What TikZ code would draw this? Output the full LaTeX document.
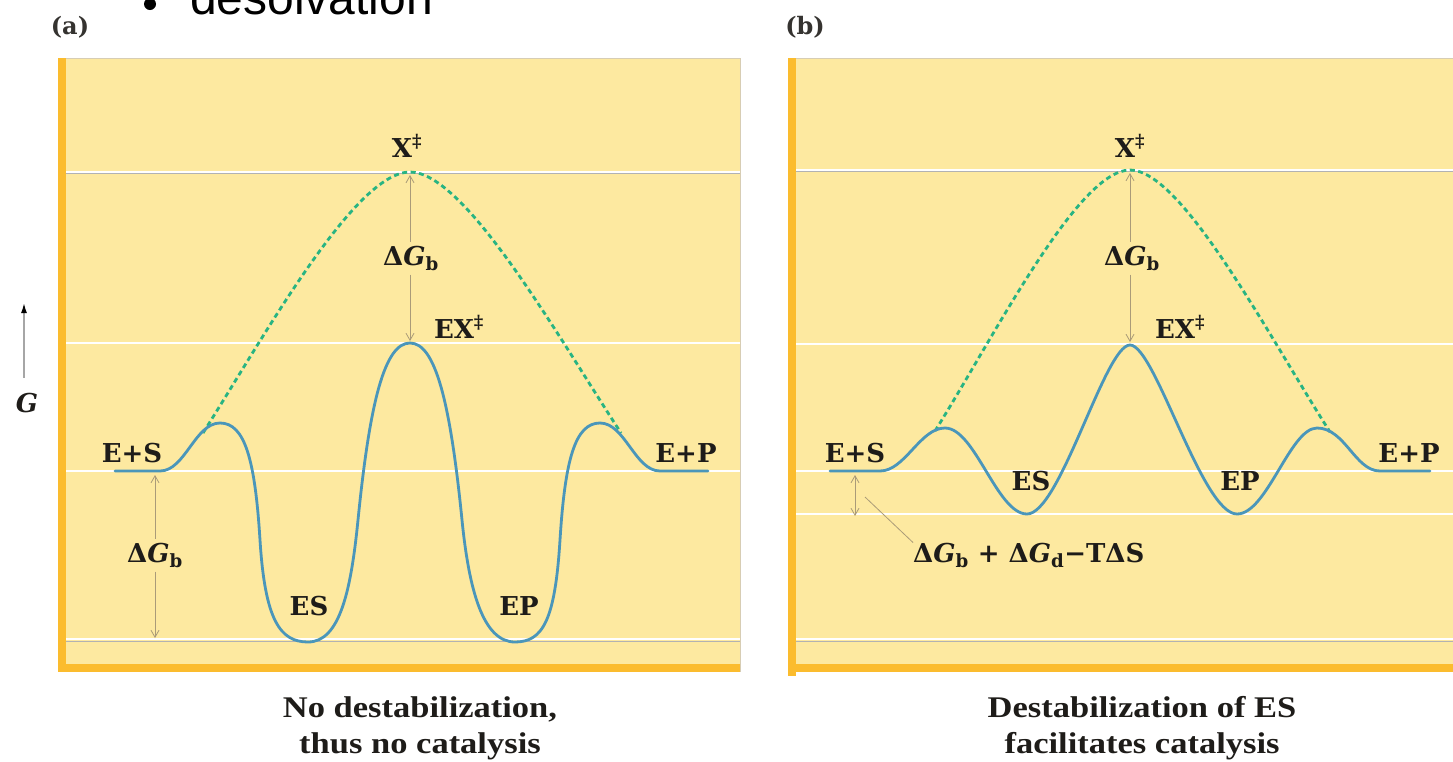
\documentclass[tikz,border=0pt]{standalone}
\usepackage{fontspec}
\setmainfont{DejaVu Serif}
\newfontfamily\capfont[FakeStretch=1.15]{Liberation Serif}
\newfontfamily\slidefont{Liberation Sans}
\usetikzlibrary{arrows.meta}
\definecolor{paper}{RGB}{253,233,160}
\definecolor{barorange}{RGB}{251,188,46}
\definecolor{curveblue}{RGB}{74,150,186}
\definecolor{tsgreen}{RGB}{40,180,130}
\definecolor{dimtan}{RGB}{170,155,120}
\definecolor{edgegray}{RGB}{215,205,180}
\definecolor{inkblack}{RGB}{30,28,25}
\tikzset{
  panel/.style={fill=paper},
  edge/.style={draw=edgegray, line width=1pt},
  bar/.style={fill=barorange},
  hline/.style={draw=white, line width=2pt},
  gline/.style={draw=black!30, line width=1.5pt},
  energy/.style={draw=curveblue, line width=2.8pt, line cap=round},
  tsline/.style={draw=tsgreen, line width=2.8pt, dash pattern=on 5pt off 3.5pt},
  dimline/.style={draw=dimtan, line width=0.8pt},
  dimarrow/.style={dimline, -{Straight Barb[length=7pt,width=8pt]}},
  lbl/.style={font=\bfseries\fontsize{26}{28}\selectfont, text=inkblack, inner sep=0pt, anchor=base},
  capt/.style={font=\capfont\bfseries\fontsize{30}{32}\selectfont, text=inkblack, inner sep=0pt, anchor=base},
  plabel/.style={font=\bfseries\fontsize{24}{26}\selectfont, text=inkblack!90, inner sep=0pt},
}
\begin{document}
\begin{tikzpicture}[x=1pt,y=-1pt]
\useasboundingbox (0,0) rectangle (1453,761);

% stray slide text
\fill[black] (150,4) circle (6);
\node[font=\slidefont\fontsize{48}{50}\selectfont, anchor=base west, inner sep=0pt] (des) at (190,14) {desolvation};

% panel labels
\node[plabel] (pa) at (70,27) {(a)};
\node[plabel] (pb) at (805,27) {(b)};

% ---------- panel a ----------
\fill[panel] (58,58) rectangle (740,672);
\draw[edge] (58,58) -- (740,58) -- (740,672);
\draw[hline] (66,172) -- (740,172);
\draw[gline, line width=0.6pt] (66,173.5) -- (740,173.5);
\draw[hline] (66,343) -- (740,343);
\draw[hline] (66,471) -- (740,471);
\draw[hline] (66,639) -- (740,639);
\draw[gline] (66,641.5) -- (740,641.5);
\fill[bar] (58,58) rectangle (66,672);
\fill[bar] (58,664) rectangle (740,672);

\draw[tsline] (203,433) .. controls (265,335) and (355,172) .. (410,172)
  .. controls (465,172) and (557,335) .. (621,433);
\draw[energy] (115,471) -- (160,471) .. controls (185,471) and (195,423) .. (220,423)
  .. controls (245,423) and (255,460) .. (260,540)
  .. controls (265,620) and (280,642) .. (308,642)
  .. controls (340,642) and (351,590) .. (358,520)
  .. controls (370,400) and (385,343) .. (410,343)
  .. controls (435,343) and (450,400) .. (462,520)
  .. controls (469,590) and (483,642) .. (515,642)
  .. controls (543,642) and (555,620) .. (560,540)
  .. controls (565,460) and (575,423) .. (600,423)
  .. controls (625,423) and (635,471) .. (660,471) -- (708,471);

\node[lbl] (xa) at (407,157) {X\textsuperscript{‡}};
\node[lbl] (exa) at (459,338) {EX\textsuperscript{‡}};
\node[lbl] (esa) at (132,462) {E+S};
\node[lbl] (epa) at (686,462) {E+P};
\node[lbl] (esmina) at (309,615) {ES};
\node[lbl] (epmina) at (519,615) {EP};
\node[lbl] (dgta) at (411,265) {Δ\textit{G}\textsubscript{b}};
\node[lbl] (dgla) at (155,562) {Δ\textit{G}\textsubscript{b}};

\coordinate (dgta-top) at (410,175);
\coordinate (dgta-bot) at (410,341);
\draw[dimarrow] (dgta.north -| dgta-top) ++(0,-4) -- (dgta-top);
\draw[dimarrow] (dgta.south -| dgta-bot) ++(0,4) -- (dgta-bot);
\coordinate (dgla-top) at (155,475);
\coordinate (dgla-bot) at (155,638);
\draw[dimarrow] (dgla.north -| dgla-top) ++(0,-4) -- (dgla-top);
\draw[dimarrow] (dgla.south -| dgla-bot) ++(0,4) -- (dgla-bot);

% G axis
\node[font=\bfseries\itshape\fontsize{26}{28}\selectfont, text=inkblack, inner sep=0pt, anchor=base] (gax) at (27,412) {G};
\coordinate (gax-bot) at (24,378);
\coordinate (gax-top) at (24,303);
\draw[draw=black!35, line width=1.5pt, -{Latex[length=10pt,width=6pt,color=black]}] (gax-bot) -- (gax-top);

\node[capt] (capa1) at (420,717) {No destabilization,};
\node[capt] (capa2) at (420,753) {thus no catalysis};

% ---------- panel b ----------
\fill[panel] (788,58) rectangle (1460,672);
\draw[edge] (788,58) -- (1460,58);
\draw[hline] (796,170) -- (1460,170);
\draw[gline, line width=0.6pt] (796,171.5) -- (1460,171.5);
\draw[hline] (796,344) -- (1460,344);
\draw[hline] (796,471) -- (1460,471);
\draw[hline] (796,514) -- (1460,514);
\draw[hline] (796,639) -- (1460,639);
\draw[gline] (796,641.5) -- (1460,641.5);
\fill[bar] (788,58) rectangle (796,676);
\fill[bar] (788,664) rectangle (1460,672);

\draw[tsline] (935,431) .. controls (995,335) and (1078,170) .. (1130,170)
  .. controls (1182,170) and (1268,335) .. (1330,432);
\draw[energy] (830,471) -- (880,471) .. controls (905,471) and (920,428) .. (945,428)
  .. controls (975,428) and (997,514) .. (1027,514)
  .. controls (1060,514) and (1105,345) .. (1130,345)
  .. controls (1155,345) and (1202,514) .. (1237,514)
  .. controls (1267,514) and (1290,428) .. (1317,428)
  .. controls (1345,428) and (1355,471) .. (1380,471) -- (1430,471);

\node[lbl] (xb) at (1130,157) {X\textsuperscript{‡}};
\node[lbl] (exb) at (1180,338) {EX\textsuperscript{‡}};
\node[lbl] (esb) at (855,462) {E+S};
\node[lbl] (epb) at (1409,462) {E+P};
\node[lbl] (esminb) at (1031,490) {ES};
\node[lbl] (epminb) at (1240,490) {EP};
\node[lbl] (dgtb) at (1132,265) {Δ\textit{G}\textsubscript{b}};
\node[lbl, anchor=base west] (lng) at (913,562) {Δ\textit{G}\textsubscript{b} + Δ\textit{G}\textsubscript{d}−TΔS};

\coordinate (dgtb-top) at (1130,173);
\coordinate (dgtb-bot) at (1130,342);
\draw[dimarrow] (dgtb.north -| dgtb-top) ++(0,-4) -- (dgtb-top);
\draw[dimarrow] (dgtb.south -| dgtb-bot) ++(0,4) -- (dgtb-bot);
\coordinate (sm-top) at (855,475);
\coordinate (sm-bot) at (855,516);
\draw[dimline, {Straight Barb[length=7pt,width=8pt]}-{Straight Barb[length=7pt,width=8pt]}] (sm-top) -- (sm-bot);
\coordinate (lead) at (865,497);
\draw[dimline] (lng.north west) -- (lead);

\node[capt] (capb1) at (1142,717) {Destabilization of ES};
\node[capt] (capb2) at (1142,753) {facilitates catalysis};
\end{tikzpicture}
\end{document}
